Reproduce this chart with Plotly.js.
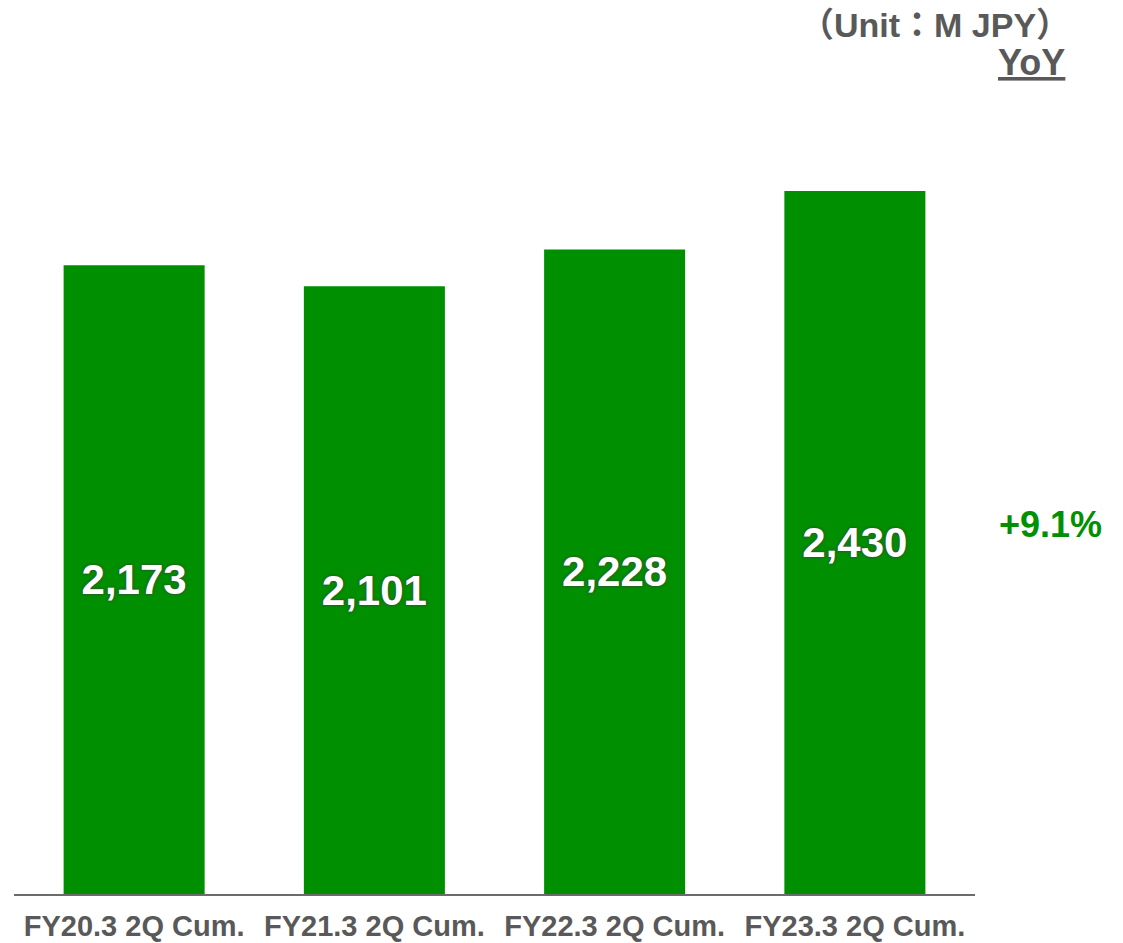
<!DOCTYPE html>
<html>
<head>
<meta charset="utf-8">
<script src="https://cdn.plot.ly/plotly-3.0.1.min.js"></script>
<style>
  html, body { margin: 0; padding: 0; background: #fff; }
  #chart { width: 1123px; height: 943px; }
</style>
</head>
<body>
<div id="chart"></div>
<script>
// ---- data ----
const categories = ["FY20.3 2Q Cum.", "FY21.3 2Q Cum.", "FY22.3 2Q Cum.", "FY23.3 2Q Cum."];
const values = [2173, 2101, 2228, 2430];
const unitLabel = "（Unit：M JPY）";
const yoyLabel = "YoY";

const last = values[values.length - 1];
const prev = values[values.length - 2];
const yoy = (last / prev - 1) * 100;
const yoyText = (yoy >= 0 ? "+" : "") + yoy.toFixed(1) + "%";

const FONT = "'Liberation Sans', Arial, 'Noto Sans CJK JP', sans-serif";
const GREEN = "#008F00";
const GRAY = "#595959";

const trace = {
  type: "bar",
  x: categories,
  y: values,
  marker: { color: GREEN, line: { width: 0 } },
  texttemplate: "%{y:,.0f}",
  textposition: "inside",
  insidetextanchor: "middle",
  textangle: 0,
  constraintext: "none",
  textfont: {
    family: FONT, size: 42, color: "#ffffff", weight: "bold",
    shadow: "0px 0px 2px rgba(60,70,60,1), 0px 0px 3px rgba(60,70,60,0.9)"
  },
  hoverinfo: "none"
};

const plotTop = 100, plotBottom = 894;
const H = plotBottom - plotTop;
const pxPerUnit = 0.2893;

const layout = {
  width: 1123, height: 943,
  margin: { l: 14, r: 148, t: plotTop, b: 943 - plotBottom, pad: 0 },
  paper_bgcolor: "#ffffff",
  plot_bgcolor: "#ffffff",
  showlegend: false,
  bargap: 0.413,
  xaxis: {
    type: "category",
    showline: true, linecolor: "#6b6b6b", linewidth: 2,
    showgrid: false, zeroline: false, ticks: "",
    ticklabelstandoff: 5,
    tickfont: { family: FONT, size: 29, color: GRAY, weight: "bold" },
    fixedrange: true
  },
  yaxis: {
    range: [0, H / pxPerUnit],
    visible: false, showgrid: false, zeroline: false,
    fixedrange: true
  },
  annotations: [
    {
      text: unitLabel, xref: "paper", yref: "paper",
      x: (1072 - 14) / 961, y: (894 - 25) / H,
      xanchor: "right", yanchor: "middle", showarrow: false,
      font: { family: FONT, size: 34, color: GRAY, weight: "bold" }
    },
    {
      text: "<u>" + yoyLabel + "</u>", xref: "paper", yref: "paper",
      x: (1067 - 14) / 961, y: (894 - 63) / H,
      xanchor: "right", yanchor: "middle", showarrow: false,
      font: { family: FONT, size: 36, color: GRAY, weight: "bold" }
    },
    {
      text: yoyText, xref: "paper", yref: "paper",
      x: (1050 - 14) / 961, y: (894 - 524) / H,
      xanchor: "center", yanchor: "middle", showarrow: false,
      font: { family: FONT, size: 36, color: "#009000", weight: "bold" }
    }
  ]
};

Plotly.newPlot("chart", [trace], layout, { displayModeBar: false, staticPlot: true });
</script>
</body>
</html>
